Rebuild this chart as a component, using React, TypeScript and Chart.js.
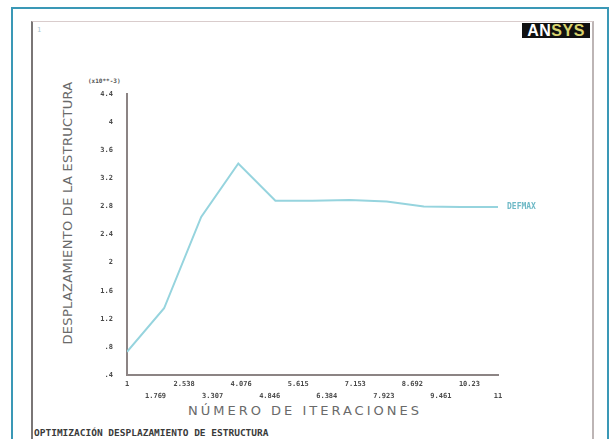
import React, { useEffect, useRef } from 'react';
import { Chart, registerables } from 'chart.js';

Chart.register(...registerables);

// ---- data ----
const iterations = [1, 2, 3, 4, 5, 6, 7, 8, 9, 10, 11];
const displacement = [0.73, 1.35, 2.65, 3.41, 2.88, 2.88, 2.89, 2.87, 2.8, 2.79, 2.79];
const seriesLabel = 'DEFMAX';

const xTickValues = [1, 1.769, 2.538, 3.307, 4.076, 4.846, 5.615, 6.384, 7.153, 7.923, 8.692, 9.461, 10.23, 11];
const xTickLabels = ['1', '1.769', '2.538', '3.307', '4.076', '4.846', '5.615', '6.384', '7.153', '7.923', '8.692', '9.461', '10.23', '11'];
const yTickValues = [0.4, 0.8, 1.2, 1.6, 2, 2.4, 2.8, 3.2, 3.6, 4, 4.4];
const yTickLabels = ['.4', '.8', '1.2', '1.6', '2', '2.4', '2.8', '3.2', '3.6', '4', '4.4'];

const yTitle = 'DESPLAZAMIENTO DE LA ESTRUCTURA';
const xTitle = 'NÚMERO DE ITERACIONES';
const multiplier = '(x10**-3)';
const caption = 'OPTIMIZACIÓN DESPLAZAMIENTO DE ESTRUCTURA';

const endLabelPlugin = {
  id: 'endLabel',
  afterDatasetsDraw(chart: any) {
    const meta = chart.getDatasetMeta(0);
    const last = meta.data[meta.data.length - 1];
    if (!last) return;
    const ctx = chart.ctx;
    ctx.save();
    ctx.font = 'bold 8px "DejaVu Sans Mono"';
    ctx.fillStyle = 'rgb(110,185,198)';
    ctx.textAlign = 'left';
    ctx.textBaseline = 'middle';
    ctx.fillText(chart.data.datasets[0].label, last.x + 9, last.y);
    ctx.restore();
  },
};

export default function App() {
  const ref = useRef<HTMLCanvasElement | null>(null);

  useEffect(() => {
    if (!ref.current) return;
    const tickFont = { family: 'DejaVu Sans Mono', size: 7, weight: 'bold' as const, lineHeight: 1.75 };
    const chart = new Chart(ref.current, {
      type: 'line',
      data: {
        datasets: [
          {
            label: seriesLabel,
            data: iterations.map((x, i) => ({ x, y: displacement[i] })),
            borderColor: 'rgb(150,212,222)',
            borderWidth: 2,
            pointRadius: 0,
            tension: 0,
            fill: false,
          },
        ],
      },
      options: {
        responsive: false,
        animation: false,
        devicePixelRatio: 1,
        layout: { padding: { left: 59, top: 94, right: 118, bottom: 0 } },
        plugins: { legend: { display: false }, tooltip: { enabled: false } },
        scales: {
          x: {
            type: 'linear',
            min: 1,
            max: 11,
            afterBuildTicks: (s: any) => {
              s.ticks = xTickValues.map((v) => ({ value: v }));
            },
            afterFit: (s: any) => {
              s.height = 64;
            },
            grid: { display: false, drawTicks: false },
            border: { display: true, color: '#8c8484', width: 2 },
            ticks: {
              autoSkip: false,
              maxRotation: 0,
              padding: 3,
              color: '#4a4a4a',
              font: tickFont,
              callback: (_v: any, i: number) => (i % 2 === 0 ? [xTickLabels[i], ''] : ['', xTickLabels[i]]),
            },
          },
          y: {
            type: 'linear',
            min: 0.4,
            max: 4.4,
            afterBuildTicks: (s: any) => {
              s.ticks = yTickValues.map((v) => ({ value: v }));
            },
            afterFit: (s: any) => {
              s.width = 68;
            },
            grid: { display: false, drawTicks: false },
            border: { display: true, color: '#8c8484', width: 2 },
            ticks: {
              autoSkip: false,
              padding: 14,
              color: '#4a4a4a',
              font: { family: 'DejaVu Sans Mono', size: 7, weight: 'bold' as const },
              callback: (_v: any, i: number) => yTickLabels[i],
            },
          },
        },
      },
      plugins: [endLabelPlugin],
    });
    return () => chart.destroy();
  }, []);

  return (
    <div style={{ position: 'fixed', left: 0, top: 0, width: 616, height: 439, background: '#fff', overflow: 'hidden' }}>
      {/* outer teal frame */}
      <div style={{ position: 'absolute', left: 11, top: 7, width: 598, height: 460, border: '2px solid #3a98b6', boxSizing: 'border-box' }} />
      {/* inner grey panel */}
      <div
        style={{
          position: 'absolute',
          left: 31,
          top: 21,
          width: 563,
          height: 460,
          borderLeft: '2px solid #7a7676',
          borderTop: '1px solid #d9cccc',
          borderRight: '2px solid #bdb5b5',
          boxSizing: 'border-box',
        }}
      />
      <div style={{ position: 'absolute', left: 37, top: 26, fontFamily: 'DejaVu Sans Mono', fontSize: 7, color: '#a9c4d0' }}>1</div>
      {/* ANSYS logo */}
      <div
        style={{
          position: 'absolute',
          left: 522,
          top: 23,
          width: 68,
          height: 15,
          background: '#111',
          fontFamily: 'Liberation Sans',
          fontWeight: 'bold',
          fontSize: 16,
          lineHeight: '15px',
          textAlign: 'center',
          letterSpacing: 0.5,
        }}
      >
        <span style={{ color: '#fff' }}>AN</span>
        <span style={{ color: '#d9d36e' }}>SYS</span>
      </div>
      {/* multiplier */}
      <div style={{ position: 'absolute', left: 88, top: 77, fontFamily: 'DejaVu Sans Mono', fontSize: 6, fontWeight: 'bold', color: '#555' }}>
        {multiplier}
      </div>
      {/* y title */}
      <div
        style={{
          position: 'absolute',
          left: 67,
          top: 213,
          transform: 'translate(-50%,-50%) rotate(-90deg)',
          whiteSpace: 'nowrap',
          fontFamily: 'DejaVu Sans',
          fontSize: 13,
          letterSpacing: 0.3,
          color: '#6a6a6a',
        }}
      >
        {yTitle}
      </div>
      {/* x title */}
      <div
        style={{
          position: 'absolute',
          left: 305,
          top: 410,
          transform: 'translate(-50%,-50%)',
          whiteSpace: 'nowrap',
          fontFamily: 'DejaVu Sans',
          fontSize: 13,
          letterSpacing: 3,
          color: '#6a6a6a',
        }}
      >
        {xTitle}
      </div>
      {/* caption */}
      <div
        style={{
          position: 'absolute',
          left: 34,
          top: 427,
          whiteSpace: 'nowrap',
          fontFamily: 'DejaVu Sans Mono',
          fontSize: 9.5,
          fontWeight: 'bold',
          color: '#3a3a3a',
        }}
      >
        {caption}
      </div>
      <canvas ref={ref} width={616} height={439} style={{ position: 'absolute', left: 0, top: 0, display: 'block' }} />
    </div>
  );
}
